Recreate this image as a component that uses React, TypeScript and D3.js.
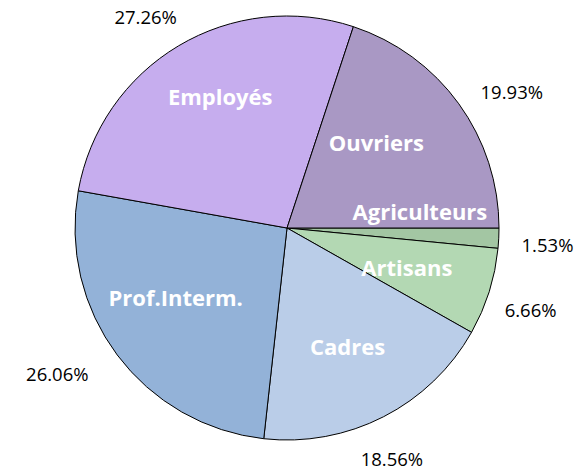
import React from "react";
import * as d3 from "d3";

const categories = ["Agriculteurs", "Artisans", "Cadres", "Prof.Interm.", "Employés", "Ouvriers"];
const values = [1.53, 6.66, 18.56, 26.06, 27.26, 19.93];
const percentLabels = ["1.53%", "6.66%", "18.56%", "26.06%", "27.26%", "19.93%"];
const colors = ["#a3c6a3", "#b3d8b3", "#bacde8", "#93b2d8", "#c6adee", "#a998c4"];

// label placement tweaks (angle in degrees, radius)
const innerTweak = [
  { da: -10, r: 134 },
  { da: 0.5, r: 126 },
  { da: 0, r: 133 },
  { da: 5, r: 131 },
  { da: 4, r: 148 },
  { da: -8, r: 124 },
];
const outerTweak = [
  { da: 0.8, r: 261 },
  { da: 1.1, r: 257 },
  { da: 2.6, r: 253 },
  { da: 4.4, r: 272 },
  { da: -3, r: 254 },
  { da: 4.6, r: 263 },
];

export default function App() {
  const W = 577, H = 470;
  const cx = 287, cy = 228, R = 212;
  const pie = d3
    .pie<number>()
    .sort(null)
    .startAngle(Math.PI / 2)
    .endAngle(Math.PI / 2 + 2 * Math.PI)(values);
  const arc = d3.arc<d3.PieArcDatum<number>>().innerRadius(0).outerRadius(R);
  const pos = (a: number, r: number) => {
    // d3 angle: 0 at top, clockwise
    return [r * Math.sin(a), -r * Math.cos(a)];
  };
  return (
    <svg width={W} height={H} style={{ position: "absolute", left: 0, top: 0, background: "#fff" }}>
      <g transform={`translate(${cx},${cy})`}>
        {pie.map((d, i) => (
          <path key={i} d={arc(d) || ""} fill={colors[i]} stroke="#000" strokeWidth={1} />
        ))}
        {pie.map((d, i) => {
          const mid = (d.startAngle + d.endAngle) / 2 + (innerTweak[i].da * Math.PI) / 180;
          const [x, y] = pos(mid, innerTweak[i].r);
          return (
            <text
              key={"in" + i}
              x={x}
              y={y}
              textAnchor="middle"
              dominantBaseline="central"
              fill="#fff"
              fontFamily="'Open Sans', sans-serif"
              fontWeight={700}
              fontSize={22}
            >
              {categories[i]}
            </text>
          );
        })}
        {pie.map((d, i) => {
          const mid = (d.startAngle + d.endAngle) / 2 + (outerTweak[i].da * Math.PI) / 180;
          const [x, y] = pos(mid, outerTweak[i].r);
          return (
            <text
              key={"out" + i}
              x={x}
              y={y}
              textAnchor="middle"
              dominantBaseline="central"
              fill="#000"
              fontFamily="'Open Sans', sans-serif"
              fontSize={18.5}
            >
              {percentLabels[i]}
            </text>
          );
        })}
      </g>
    </svg>
  );
}
